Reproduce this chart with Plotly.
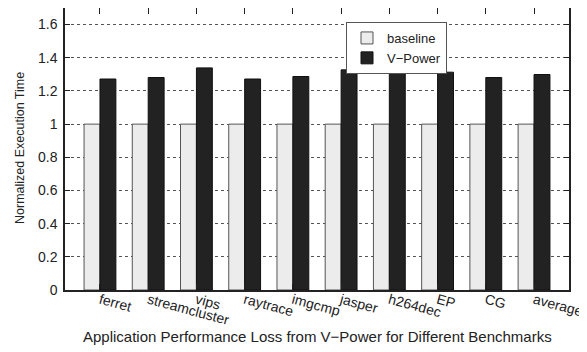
import plotly.graph_objects as go

categories = ["ferret", "streamcluster", "vips", "raytrace", "imgcmp", "jasper",
              "h264dec", "EP", "CG", "average"]
baseline = [1, 1, 1, 1, 1, 1, 1, 1, 1, 1]
vpower = [1.272, 1.281, 1.339, 1.272, 1.287, 1.327, 1.313, 1.313, 1.281, 1.299]
y_ticks = [0, 0.2, 0.4, 0.6, 0.8, 1, 1.2, 1.4, 1.6]
y_tick_labels = ["0", "0.2", "0.4", "0.6", "0.8", "1", "1.2", "1.4", "1.6"]

FONT = "Liberation Sans, Arial, sans-serif"

# page body adds an 8px offset, so the figure is 8px smaller than the window
W, H = 579, 344
L, R, T, B = 57, 18, 0, 62
PW, PH = W - L - R, H - T - B

fig = go.Figure()
fig.add_trace(go.Bar(x=categories, y=baseline, name="baseline",
                     marker=dict(color="#ececec", line=dict(color="#555555", width=1))))
fig.add_trace(go.Bar(x=categories, y=vpower, name="V\u2212Power",
                     marker=dict(color="#222222", line=dict(color="#111111", width=1))))

fig.update_layout(
    width=W, height=H,
    margin=dict(l=L, r=R, t=T, b=B, autoexpand=False),
    paper_bgcolor="white", plot_bgcolor="white",
    barmode="group", bargap=0.34, bargroupgap=0,
    font=dict(family=FONT, size=13, color="#222222"),
    legend=dict(x=(338 - L) / PW, y=(PH - 14) / PH, xanchor="left", yanchor="top",
                bgcolor="white", bordercolor="#555555", borderwidth=1,
                font=dict(size=13), tracegroupgap=0, itemwidth=30),
    showlegend=True,
    annotations=[
        dict(text="Application Performance Loss from V\u2212Power for Different Benchmarks",
             xref="paper", yref="paper", x=0.5, y=(PH - 328) / PH,
             xanchor="center", yanchor="middle", showarrow=False,
             font=dict(size=15)),
        dict(text="Normalized Execution Time", xref="paper", yref="paper",
             x=(12 - L) / PW, y=(PH - 140) / PH, textangle=-90,
             xanchor="center", yanchor="middle", showarrow=False,
             font=dict(size=12.5)),
    ],
)
fig.update_xaxes(
    range=[-0.725, 9.725], tickangle=15, tickfont=dict(size=14), automargin=False,
    ticklabelstandoff=-5,
    ticks="inside", ticklen=6, tickcolor="#222222", mirror="ticks",
    showline=True, linecolor="#222222", linewidth=1.5, showgrid=False,
)
fig.update_yaxes(
    range=[0, 1.7], tickvals=y_ticks, ticktext=y_tick_labels, tickfont=dict(size=14),
    automargin=False, ticklabelstandoff=3,
    ticks="inside", ticklen=5, tickcolor="#222222", mirror="ticks",
    showline=True, linecolor="#222222", linewidth=1.5,
    showgrid=True, gridcolor="#555555", griddash="dot", gridwidth=1,
    zeroline=False,
)

fig.write_html("out.html")
